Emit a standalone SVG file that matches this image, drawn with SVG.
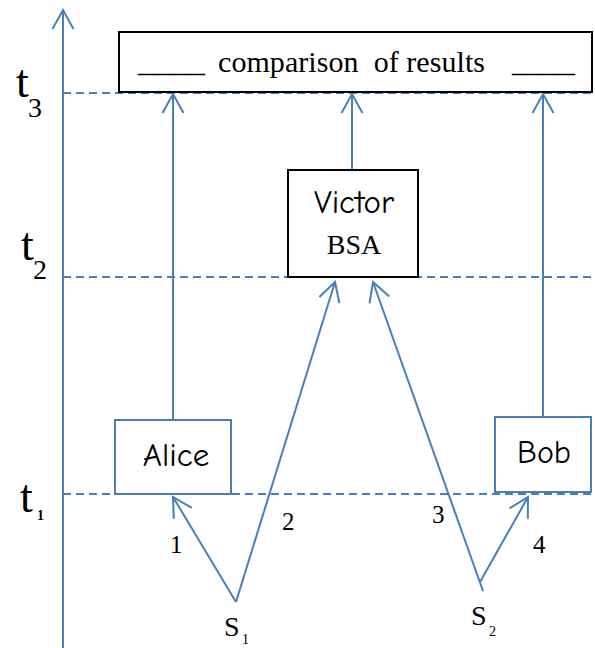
<svg xmlns="http://www.w3.org/2000/svg" width="595" height="648" viewBox="0 0 595 648">
<style>
.ln{stroke:#4a7ebb;stroke-width:2;fill:none}
.dash{stroke:#4a7ebb;stroke-width:1.8;stroke-dasharray:8,5;fill:none}
.box{fill:#fff;stroke:#000;stroke-width:2}
.bbox{fill:#fff;stroke:#4a7ebb;stroke-width:2}
.tm{font-family:"Liberation Serif","Times New Roman",serif;fill:#000}
.cm{font-family:"Comic Sans MS","Comic Neue","DejaVu Sans",sans-serif;fill:#000}
</style>
<defs>
<marker id="ah" markerUnits="userSpaceOnUse" markerWidth="30" markerHeight="30" viewBox="-25 -15 30 30" refX="0" refY="0" orient="auto">
<path d="M-19,-10.5 L0,0 L-19,10.5" fill="none" stroke="#4a7ebb" stroke-width="2"/>
</marker>
</defs>
<g id="axis">
<line class="ln" x1="63" y1="648" x2="63" y2="10" marker-end="url(#ah)"/>
<text class="tm" x="16" y="97" font-size="46">t</text>
<text class="tm" x="28" y="117" font-size="28">3</text>
<text class="tm" x="21" y="260" font-size="46">t</text>
<text class="tm" x="33" y="279" font-size="28">2</text>
<text class="tm" x="20" y="512" font-size="46">t</text>
<text class="tm" x="37" y="520" font-size="14" font-weight="bold">1</text>
</g>
<g id="timelines">
<line class="dash" x1="63" y1="93" x2="595" y2="93"/>
<line class="dash" x1="63" y1="277" x2="595" y2="277"/>
<line class="dash" x1="63" y1="494" x2="595" y2="494"/>
</g>
<g id="connectors">
<line class="ln" x1="173" y1="420" x2="173" y2="94" marker-end="url(#ah)"/>
<line class="ln" x1="352" y1="170" x2="352" y2="94" marker-end="url(#ah)"/>
<line class="ln" x1="543" y1="417" x2="543" y2="94" marker-end="url(#ah)"/>
<line class="ln" x1="236" y1="602" x2="173" y2="497" marker-end="url(#ah)"/>
<line class="ln" x1="236" y1="602" x2="335" y2="282" marker-end="url(#ah)"/>
<line class="ln" x1="483" y1="591" x2="373" y2="282" marker-end="url(#ah)"/>
<line class="ln" x1="480" y1="582" x2="528" y2="497" marker-end="url(#ah)"/>
<text class="tm" x="170" y="553" font-size="25">1</text>
<text class="tm" x="282" y="530" font-size="25">2</text>
<text class="tm" x="432" y="523" font-size="25">3</text>
<text class="tm" x="533" y="553" font-size="25">4</text>
</g>
<g id="comparison">
<rect class="box" x="119" y="32" width="473" height="60"/>
<text class="tm" x="138" y="72" font-size="30" textLength="67" lengthAdjust="spacingAndGlyphs">____</text>
<text class="tm" x="218" y="72" font-size="30" xml:space="preserve" textLength="267" lengthAdjust="spacing">comparison  of results</text>
<text class="tm" x="512" y="72" font-size="30" textLength="63" lengthAdjust="spacingAndGlyphs">____</text>
</g>
<g id="victor">
<rect class="box" x="288" y="170" width="130" height="107"/>
<text class="cm" x="354" y="213" font-size="33" text-anchor="middle">Victor</text>
<text class="tm" x="354" y="254" font-size="28" text-anchor="middle">BSA</text>
</g>
<g id="alice">
<rect class="bbox" x="115" y="420" width="116" height="74"/>
<text class="cm" x="176" y="466" font-size="33" text-anchor="middle">Alice</text>
</g>
<g id="bob">
<rect class="bbox" x="495" y="417" width="96" height="75"/>
<text class="cm" x="544" y="463" font-size="32" text-anchor="middle">Bob</text>
</g>
<g id="sources">
<text class="tm" x="224" y="636" font-size="28">S</text>
<text class="tm" x="242" y="644" font-size="14">1</text>
<text class="tm" x="471" y="625" font-size="28">S</text>
<text class="tm" x="489" y="636" font-size="14">2</text>
</g>
</svg>
